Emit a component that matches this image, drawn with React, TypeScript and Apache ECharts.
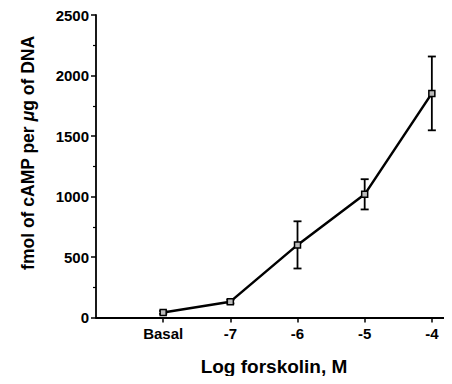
import React, { useEffect, useRef } from "react";
import * as echarts from "echarts";

const categories = ["Basal", "-7", "-6", "-5", "-4"];
const xPositions = [-8, -7, -6, -5, -4];
const campValues = [42, 131, 600, 1018, 1852];
const campErrors = [12, 15, 195, 125, 305];
const yTicks = [0, 500, 1000, 1500, 2000, 2500];

const FONT = "'Liberation Sans', Arial, Helvetica, sans-serif";

export default function App() {
  const ref = useRef<HTMLDivElement>(null);
  useEffect(() => {
    if (!ref.current) return;
    const chart = echarts.init(ref.current, null, { renderer: "svg" });
    const lineData = xPositions.map((x, i) => [x, campValues[i]]);
    const errData = xPositions.map((x, i) => [x, campValues[i] - campErrors[i], campValues[i] + campErrors[i]]);
    chart.setOption({
      animation: false,
      backgroundColor: "#ffffff",
      grid: { left: 96, right: 0, top: 15, bottom: 66.5, containLabel: false },
      xAxis: {
        type: "value",
        min: -9,
        max: -3.7,
        interval: 1,
        splitLine: { show: false },
        axisLine: { show: true, lineStyle: { color: "#000", width: 1.8 } },
        axisTick: { show: true, length: 5, lineStyle: { color: "#000", width: 1.5 }, customValues: xPositions },
        axisLabel: {
          customValues: xPositions,
          margin: 8,
          color: "#000",
          fontSize: 15,
          fontWeight: "bold",
          fontFamily: FONT,
          formatter: (v: number) => {
            const idx = xPositions.indexOf(v);
            return idx >= 0 ? categories[idx] : "";
          },
        },
        name: "Log forskolin, M",
        nameLocation: "middle",
        nameGap: 39,
        nameTextStyle: { color: "#000", fontSize: 19, fontFamily: FONT, fontWeight: "bold" },
      },
      yAxis: {
        type: "value",
        min: 0,
        max: 2500,
        interval: 500,
        splitLine: { show: false },
        axisLine: { show: true, lineStyle: { color: "#000", width: 1.8 } },
        axisTick: { show: true, length: 5, lineStyle: { color: "#000", width: 1.5 } },
        minorTick: { show: true, splitNumber: 2, length: 3, lineStyle: { color: "#000", width: 1.2 } },
        axisLabel: {
          margin: 7,
          color: "#000",
          fontSize: 15,
          fontWeight: "bold",
          fontFamily: FONT,
          formatter: (v: number) => (yTicks.indexOf(v) >= 0 ? String(v) : ""),
        },
      },
      graphic: [
        {
          type: "text",
          x: 28,
          y: 153,
          rotation: Math.PI / 2,
          style: {
            text: "{a|fmol of cAMP per }{i|μ}{a|g of DNA}",
            align: "center",
            verticalAlign: "middle",
            fill: "#000",
            rich: {
              a: { fontSize: 17.5, fontFamily: FONT, fontWeight: "bold", fill: "#000" },
              i: { fontSize: 17.5, fontFamily: FONT, fontWeight: "bold", fontStyle: "italic", fill: "#000" },
            },
          },
        },
      ],
      series: [
        {
          type: "custom",
          data: errData,
          z: 1,
          renderItem: (params: any, api: any) => {
            const x = api.value(0);
            const lo = api.coord([x, api.value(1)]);
            const hi = api.coord([x, api.value(2)]);
            const hw = 4;
            const style = { stroke: "#000", lineWidth: 1.8 };
            return {
              type: "group",
              children: [
                { type: "line", shape: { x1: lo[0], y1: lo[1], x2: hi[0], y2: hi[1] }, style },
                { type: "line", shape: { x1: lo[0] - hw, y1: lo[1], x2: lo[0] + hw, y2: lo[1] }, style },
                { type: "line", shape: { x1: hi[0] - hw, y1: hi[1], x2: hi[0] + hw, y2: hi[1] }, style },
              ],
            };
          },
        },
        {
          type: "line",
          data: lineData,
          z: 2,
          symbol: "rect",
          symbolSize: 6,
          showSymbol: true,
          lineStyle: { color: "#000", width: 2.5 },
          itemStyle: { color: "#bbb", borderColor: "#000", borderWidth: 1.5 },
        },
      ],
    });
    return () => chart.dispose();
  }, []);
  return <div ref={ref} style={{ width: 452, height: 384, margin: -8 }} />;
}
